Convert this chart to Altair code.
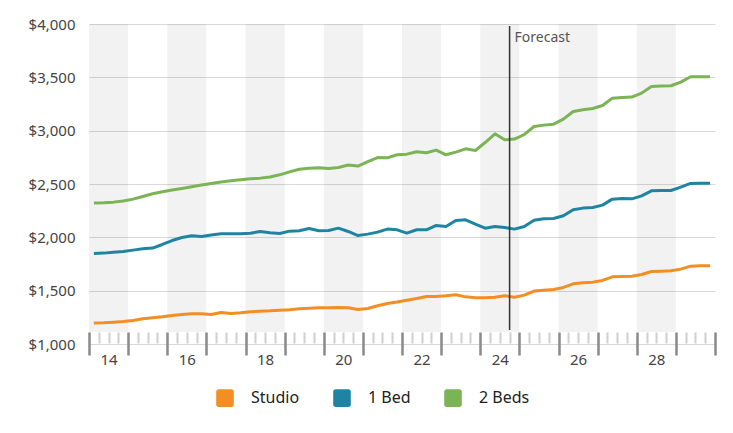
import altair as alt
import pandas as pd

# ---- data -------------------------------------------------------------
years = list(range(2014, 2030))
quarters = [f"{y}-Q{q}" for y in years for q in range(1, 5)]

studio = [1196, 1199, 1205, 1211, 1221, 1236, 1246, 1255, 1268, 1277,
          1283, 1283, 1277, 1296, 1286, 1292, 1302, 1308, 1311, 1317,
          1321, 1330, 1336, 1339, 1339, 1342, 1339, 1324, 1333, 1358,
          1380, 1394, 1411, 1427, 1446, 1446, 1452, 1461, 1442, 1433,
          1433, 1439, 1452, 1439, 1458, 1496, 1505, 1511, 1530, 1564,
          1574, 1580, 1596, 1630, 1633, 1636, 1652, 1680, 1683, 1686,
          1702, 1730, 1733, 1733]

one_bed = [1848, 1852, 1861, 1867, 1880, 1892, 1899, 1933, 1970, 1998,
           2014, 2008, 2021, 2033, 2033, 2033, 2039, 2055, 2042, 2036,
           2058, 2061, 2083, 2061, 2064, 2086, 2055, 2017, 2030, 2049,
           2077, 2070, 2040, 2071, 2071, 2111, 2102, 2158, 2164, 2124,
           2086, 2102, 2092, 2077, 2102, 2161, 2174, 2177, 2202, 2258,
           2274, 2280, 2302, 2358, 2364, 2361, 2389, 2436, 2439, 2439,
           2471, 2505, 2508, 2508]

two_beds = [2321, 2324, 2330, 2340, 2358, 2383, 2408, 2427, 2443, 2458,
            2474, 2490, 2505, 2518, 2530, 2539, 2549, 2555, 2565, 2586,
            2614, 2638, 2648, 2652, 2645, 2655, 2678, 2668, 2710, 2748,
            2745, 2774, 2780, 2802, 2793, 2818, 2774, 2799, 2830, 2814,
            2889, 2971, 2914, 2921, 2964, 3039, 3052, 3061, 3108, 3180,
            3196, 3208, 3236, 3305, 3311, 3315, 3352, 3414, 3418, 3421,
            3455, 3505, 3505, 3505]

series_names = ["Studio", "1 Bed", "2 Beds"]
series_colors = ["#F28E24", "#1F84A3", "#7AB455"]

band_years = [2014, 2016, 2018, 2020, 2022, 2024, 2026, 2028]
axis_years = list(range(2014, 2031))
minor_ticks = [y + f for y in years for f in (0.25, 0.5, 0.75)]
y_ticks = [1000, 1500, 2000, 2500, 3000, 3500, 4000]

forecast_start = [2024.75]
forecast_label = ["Forecast"]

# ---- tables -----------------------------------------------------------
df = pd.DataFrame({"quarter": quarters, "Studio": studio,
                   "1 Bed": one_bed, "2 Beds": two_beds})
df["t"] = [int(q[:4]) + (int(q[-1]) - 0.5) / 4 for q in quarters]
long = df.melt(id_vars=["quarter", "t"], value_vars=series_names,
               var_name="series", value_name="rent")
legend_df = pd.DataFrame({"series": series_names})

bands_df = pd.DataFrame({"start": band_years, "end": [y + 1 for y in band_years]})
fc_df = pd.DataFrame({"t": forecast_start, "label": forecast_label})

FONT = "Noto Sans"
x_scale = alt.Scale(domain=[2014, 2030], nice=False, zero=False)
y_scale = alt.Scale(domain=[1000, 4000], nice=False, zero=False)
color_scale = alt.Scale(domain=series_names, range=series_colors)

ROUND_SQ = ("M-0.7,-1H0.7Q1,-1,1,-0.7V0.7Q1,1,0.7,1H-0.7Q-1,1,-1,0.7"
            "V-0.7Q-1,-1,-0.7,-1Z")

major_axis = alt.Axis(
    values=axis_years, orient="bottom", offset=-12, tickSize=23, tickWidth=2.5,
    tickColor="#8a8a8a", domain=False, grid=False,
    labelExpr="datum.value % 2 == 0 && datum.value < 2029 ? substring(toString(datum.value), 2, 4) : ''",
    labelOffset=19.6, labelPadding=-3, labelFontSize=15, labelColor="#444444",
    labelFlush=False, labelOverlap=False, labelFont=FONT, title=None,
)
minor_axis = alt.Axis(
    values=minor_ticks, orient="bottom", offset=-12, tickSize=11, tickWidth=2,
    tickColor="#cfcfcf", domain=False, grid=False, labels=False, title=None,
)
y_axis = alt.Axis(
    values=y_ticks, format="$,.0f", grid=True, gridColor="#d9d9d9", gridWidth=1,
    domain=False, ticks=False, labelPadding=14, labelFontSize=15,
    labelColor="#444444", labelFont=FONT, title=None,
)

bands = alt.Chart(bands_df).mark_rect(color="#000000", opacity=0.05).encode(
    x=alt.X("start:Q", scale=x_scale, axis=major_axis),
    x2="end:Q",
    y=alt.value(0),
    y2=alt.value(308),
)

lines = alt.Chart(long).mark_line(strokeWidth=3, strokeJoin="round").encode(
    x=alt.X("t:Q", scale=x_scale, axis=minor_axis),
    y=alt.Y("rent:Q", scale=y_scale, axis=y_axis),
    color=alt.Color("series:N", scale=color_scale, legend=None),
    order="t:Q",
)

legend_layer = alt.Chart(legend_df).mark_square(
    filled=True, opacity=0, size=0
).encode(
    color=alt.Color(
        "series:N", scale=color_scale,
        legend=alt.Legend(
            title=None, orient="none", legendX=127, legendY=365,
            direction="horizontal", symbolType=ROUND_SQ, symbolSize=310,
            symbolStrokeWidth=0, symbolOpacity=1, labelFontSize=16,
            labelColor="#222222", labelFont=FONT, labelOffset=17,
            columnPadding=33, padding=0,
        ),
    ),
)

rule = alt.Chart(fc_df).mark_rule(color="#333333", strokeWidth=1.5).encode(
    x=alt.X("t:Q", scale=x_scale, axis=None),
    y=alt.value(2),
    y2=alt.value(306),
)

label = alt.Chart(fc_df).mark_text(
    align="left", baseline="middle", dx=5, fontSize=14, color="#555555", font=FONT
).encode(
    x=alt.X("t:Q", scale=x_scale, axis=None),
    y=alt.value(14),
    text="label:N",
)

chart = alt.layer(bands, lines, rule, label, legend_layer).resolve_axis(
    x="independent"
).resolve_scale(
    color="independent"
).resolve_legend(
    color="independent"
).properties(
    width=626, height=320,
    padding={"left": 81, "top": 16, "right": 10, "bottom": 70},
    autosize=alt.AutoSizeParams(type="none"),
).configure(font=FONT).configure_view(stroke=None)

chart.save("out.html", embed_options={"renderer": "svg", "actions": False})
